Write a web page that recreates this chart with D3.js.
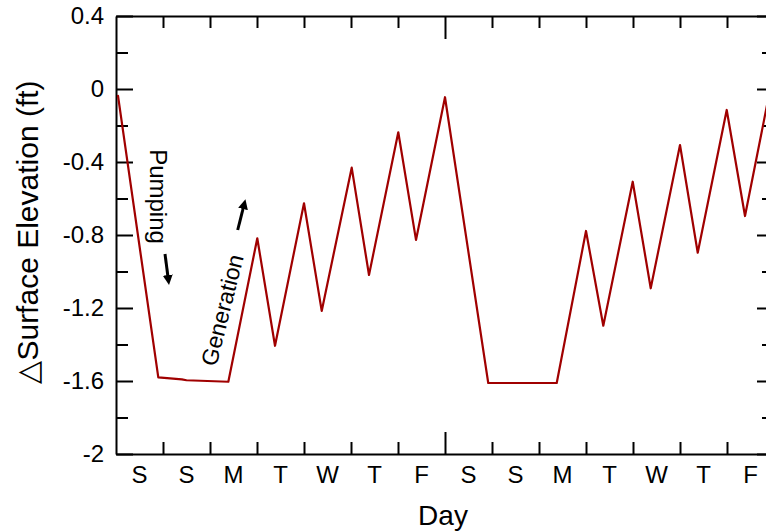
<!DOCTYPE html>
<html>
<head>
<meta charset="utf-8">
<script src="https://cdn.jsdelivr.net/npm/d3@7"></script>
<style>
  body { margin: 0; background: #fff; overflow: hidden; }
  svg { display: block; font-family: "Liberation Sans", Arial, sans-serif; }
</style>
</head>
<body>
<svg id="chart" width="766" height="531"></svg>
<script>
// Two weeks of reservoir surface elevation change (days from Saturday 00:00)
const dayLabels = ["S", "S", "M", "T", "W", "T", "F", "S", "S", "M", "T", "W", "T", "F"];
const dayTime = [0.043, 0.90, 1.40, 1.50, 2.39, 3.006, 3.383, 4.0, 4.377, 5.015, 5.383, 6.006, 6.383, 7.0,
                 7.92, 9.377, 10.0, 10.368, 10.994, 11.377, 12.0, 12.377, 12.994, 13.383, 13.85];
const elevation = [-0.038, -1.580, -1.591, -1.596, -1.604, -0.818, -1.407, -0.626, -1.216, -0.431, -1.019, -0.237, -0.827, -0.045,
                   -1.611, -1.611, -0.778, -1.297, -0.508, -1.092, -0.307, -0.897, -0.115, -0.696, -0.09];
const yMajorTicks = [0.4, 0, -0.4, -0.8, -1.2, -1.6, -2];
const yMinorTicks = [0.2, -0.2, -0.6, -1.0, -1.4, -1.8];
const dayTicks = d3.range(1, 14);
const weekBreak = 7;

const svg = d3.select("#chart");
const plotLeft = 116, plotRight = 774, plotTop = 16, plotBottom = 454;

const x = d3.scaleLinear().domain([0, 14]).range([plotLeft, plotRight]);
const y = d3.scaleLinear().domain([-2, 0.4]).range([plotBottom, plotTop]);
const xBand = d3.scaleBand().domain(d3.range(dayLabels.length)).range([plotLeft, plotRight]);

const axisStroke = g => g.selectAll("line,path").attr("stroke", "#000").attr("stroke-width", 2);

// Left axis: labelled major ticks + minor ticks pointing inward
const leftMajor = svg.append("g").attr("transform", `translate(${plotLeft},0)`)
  .call(d3.axisLeft(y).tickValues(yMajorTicks).tickSizeInner(-17).tickSizeOuter(0).tickPadding(12)
        .tickFormat(v => v === 0 ? "0" : String(v)));
leftMajor.selectAll("text").attr("font-size", 24).attr("fill", "#000");
leftMajor.call(axisStroke);
svg.append("g").attr("transform", `translate(${plotLeft},0)`)
  .call(d3.axisLeft(y).tickValues(yMinorTicks).tickSizeInner(-12).tickSizeOuter(0).tickFormat(""))
  .call(axisStroke).select(".domain").remove();

// Right axis mirrors the left ticks
svg.append("g").attr("transform", `translate(${plotRight},0)`)
  .call(d3.axisRight(y).tickValues(yMajorTicks).tickSizeInner(-17).tickSizeOuter(0).tickFormat(""))
  .call(axisStroke);
svg.append("g").attr("transform", `translate(${plotRight},0)`)
  .call(d3.axisRight(y).tickValues(yMinorTicks).tickSizeInner(-12).tickSizeOuter(0).tickFormat(""))
  .call(axisStroke).select(".domain").remove();

// Bottom and top axes: day boundaries, longer tick at the week break
function dayAxis(axisFn, yPos, breakLen) {
  const g = svg.append("g").attr("transform", `translate(0,${yPos})`)
    .call(axisFn(x).tickValues(dayTicks).tickSizeInner(-12).tickSizeOuter(0).tickFormat(""))
    .call(axisStroke);
  g.selectAll(".tick").filter(d => d === weekBreak).select("line").attr("y2", breakLen);
  return g;
}
dayAxis(d3.axisBottom, plotBottom, -22);
dayAxis(d3.axisTop, plotTop, 23);

// Day letters centred in each day
const labelAxis = svg.append("g").attr("transform", `translate(0,${plotBottom})`)
  .call(d3.axisBottom(xBand).tickSize(0).tickPadding(12).tickFormat(i => dayLabels[i]));
labelAxis.select(".domain").remove();
labelAxis.selectAll("text").attr("font-size", 24).attr("fill", "#000");

// Axis titles
svg.append("text").attr("x", (plotLeft + plotRight) / 2 - 2).attr("y", 525)
  .attr("text-anchor", "middle").attr("font-size", 28).text("Day");
svg.append("text").attr("transform", "translate(38,232) rotate(-90)")
  .attr("text-anchor", "middle").attr("font-size", 30).text("\u25B3Surface Elevation (ft)");

// Elevation trace
const series = dayTime.map((t, i) => ({ t, v: elevation[i] }));
svg.append("path").datum(series)
  .attr("fill", "none").attr("stroke", "#a00000").attr("stroke-width", 2.2)
  .attr("stroke-linejoin", "round").attr("stroke-linecap", "round")
  .attr("d", d3.line().x(d => x(d.t)).y(d => y(d.v)));

// Annotations with arrows
const defs = svg.append("defs");
defs.append("marker").attr("id", "head").attr("viewBox", "0 0 10 10")
  .attr("refX", 2).attr("refY", 5).attr("markerWidth", 10).attr("markerHeight", 10)
  .attr("markerUnits", "userSpaceOnUse").attr("orient", "auto")
  .append("path").attr("d", "M0,0 L10,5 L0,10 Z").attr("fill", "#000");

svg.append("text").attr("transform", "translate(150,196.5) rotate(90)")
  .attr("text-anchor", "middle").attr("font-size", 24).text("Pumping");
svg.append("line").attr("x1", 165).attr("y1", 254).attr("x2", 168).attr("y2", 277)
  .attr("stroke", "#000").attr("stroke-width", 3).attr("marker-end", "url(#head)");

svg.append("text").attr("transform", "translate(230,312) rotate(-76)")
  .attr("text-anchor", "middle").attr("font-size", 23).text("Generation");
svg.append("line").attr("x1", 237.7).attr("y1", 230).attr("x2", 243.5).attr("y2", 207)
  .attr("stroke", "#000").attr("stroke-width", 3).attr("marker-end", "url(#head)");
</script>
</body>
</html>
